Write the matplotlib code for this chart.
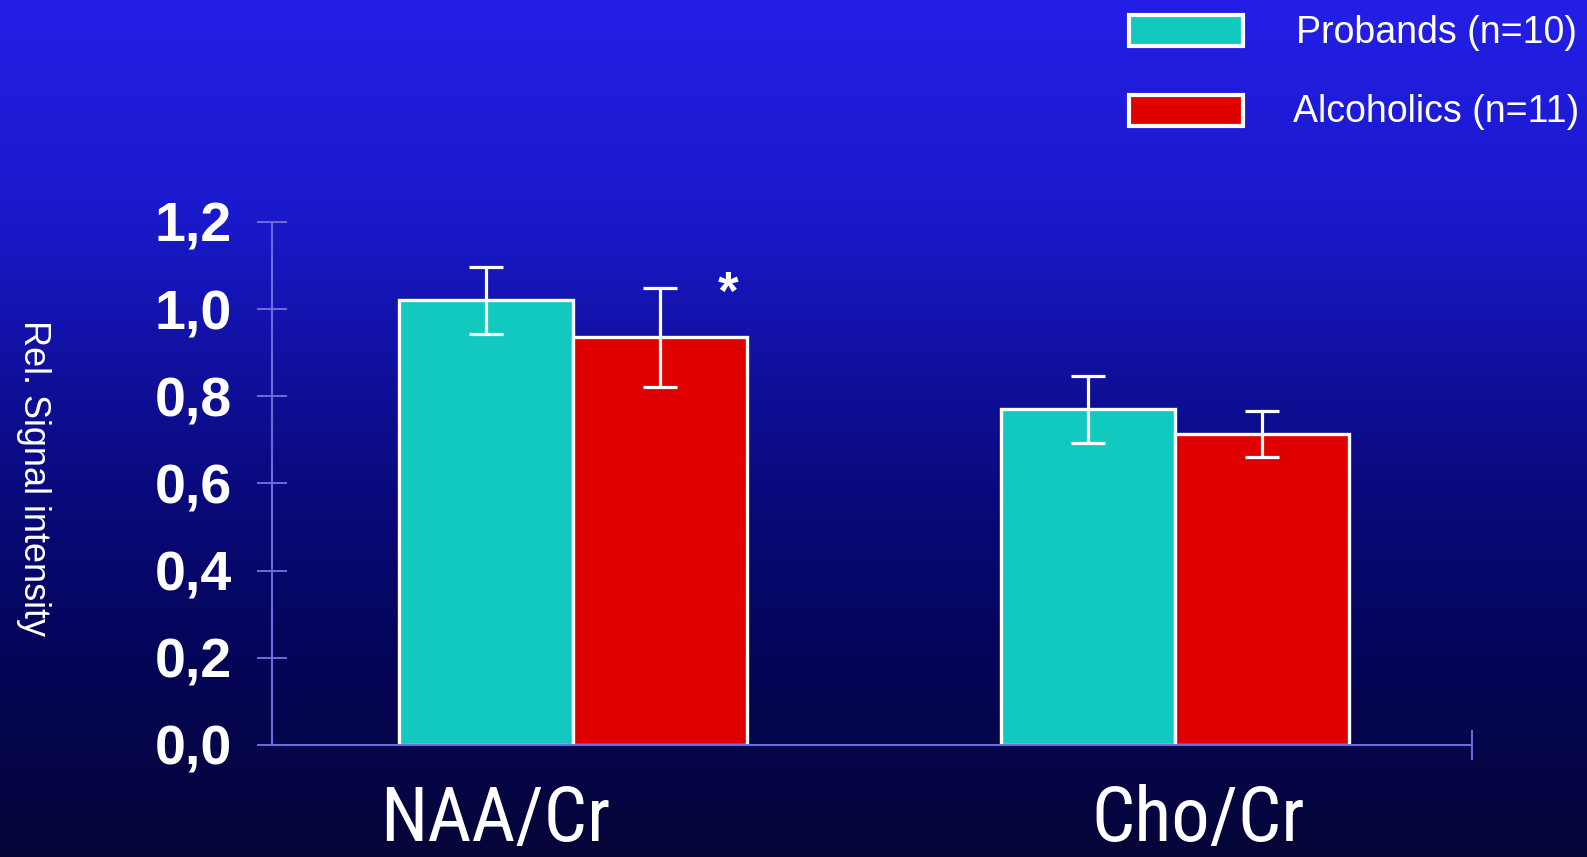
import numpy as np
import matplotlib.pyplot as plt
from matplotlib.colors import LinearSegmentedColormap
from matplotlib.patches import Rectangle
import matplotlib.transforms as mtransforms

# Data
categories = ['NAA/Cr', 'Cho/Cr']
probands = [1.02, 0.77]
probands_err = [0.076, 0.077]
alcoholics = [0.935, 0.713]
alcoholics_err = [0.113, 0.053]
legend_labels = ['Probands (n=10)', 'Alcoholics (n=11)']
yticks = [0.0, 0.2, 0.4, 0.6, 0.8, 1.0, 1.2]

teal = '#12c9c0'
red = '#e00000'
axis_col = '#6c6cdc'

plt.rcParams['font.family'] = ['Liberation Sans', 'DejaVu Sans']

fig = plt.figure(figsize=(15.87, 8.57), dpi=100)

# blue slide background, bright at the top, navy at the bottom
bg = fig.add_axes([0, 0, 1, 1], zorder=-10)
stops = [(0.0, (0.14, 0.12, 0.90)), (0.25, (0.10, 0.10, 0.80)),
         (0.45, (0.06, 0.06, 0.60)), (0.62, (0.03, 0.03, 0.45)),
         (0.78, (0.02, 0.02, 0.34)), (1.0, (0.02, 0.02, 0.22))]
cmap = LinearSegmentedColormap.from_list('slide', stops)
grad = np.linspace(0, 1, 256).reshape(-1, 1)
bg.imshow(grad, cmap=cmap, aspect='auto', extent=[0, 1, 1, 0], vmin=0, vmax=1)
bg.set_xlim(0, 1)
bg.set_ylim(1, 0)
bg.axis('off')

ax = fig.add_axes([0.1714, 0.1307, 0.7561, 0.6103])
ax.patch.set_alpha(0)

x = np.arange(len(categories))
w = 0.289
ax.bar(x - w / 2, probands, w, color=teal, edgecolor='white', linewidth=2.4, zorder=2)
ax.bar(x + w / 2, alcoholics, w, color=red, edgecolor='white', linewidth=2.4, zorder=2)
ax.errorbar(x - w / 2, probands, yerr=probands_err, fmt='none', ecolor='white',
            elinewidth=2.3, capsize=12.5, capthick=2.3, zorder=3)
ax.errorbar(x + w / 2, alcoholics, yerr=alcoholics_err, fmt='none', ecolor='white',
            elinewidth=2.3, capsize=12.5, capthick=2.3, zorder=3)

# significance star next to the NAA alcoholics bar
ax.text(x[0] + w / 2 + 0.113, alcoholics[0] + alcoholics_err[0] - 0.015, '*',
        color='white', fontsize=38, fontweight='bold', ha='center', va='center')

ax.set_xlim(-0.5, 1.493)
ax.set_ylim(0, 1.2)
ax.set_yticks(yticks)
ax.set_yticklabels([f'{v:.1f}'.replace('.', ',') for v in yticks])
ax.set_xticks([1.493])
ax.set_xticklabels([''])
ax.tick_params(axis='both', direction='inout', length=22, width=1.4, color=axis_col)
ax.tick_params(axis='y', labelsize=40, labelcolor='white', pad=18)
for lab in ax.get_yticklabels():
    lab.set_fontweight('bold')
for s in ['top', 'right']:
    ax.spines[s].set_visible(False)
for s in ['left', 'bottom']:
    ax.spines[s].set_color(axis_col)
    ax.spines[s].set_linewidth(1.5)

# category labels below the axis (condensed font)
trans = mtransforms.blended_transform_factory(ax.transData, fig.transFigure)
label_offsets = [-0.13, 0.038]
for xi, cat, off in zip(x, categories, label_offsets):
    ax.text(xi + off, 0.0, cat, transform=trans, ha='center', va='bottom',
            fontsize=55, color='white', fontstretch='condensed',
            family=['Roboto Condensed', 'DejaVu Sans'])

fig.text(0.021, 0.442, 'Rel. Signal intensity', rotation=270, color='white',
         fontsize=26, ha='center', va='center')

# legend drawn by hand in the top-right corner
leg_colors = [teal, red]
leg_y = [0.962, 0.869]
for col, lab, yy in zip(leg_colors, legend_labels, leg_y):
    fig.patches.append(Rectangle((1129 / 1587, yy - 0.016), 114 / 1587, 0.036,
                                 transform=fig.transFigure, facecolor=col,
                                 edgecolor='white', linewidth=3))
    fig.text(1436 / 1587, yy, lab, color='white', fontsize=27, ha='center', va='center')

fig.savefig('out.png', dpi=100)
